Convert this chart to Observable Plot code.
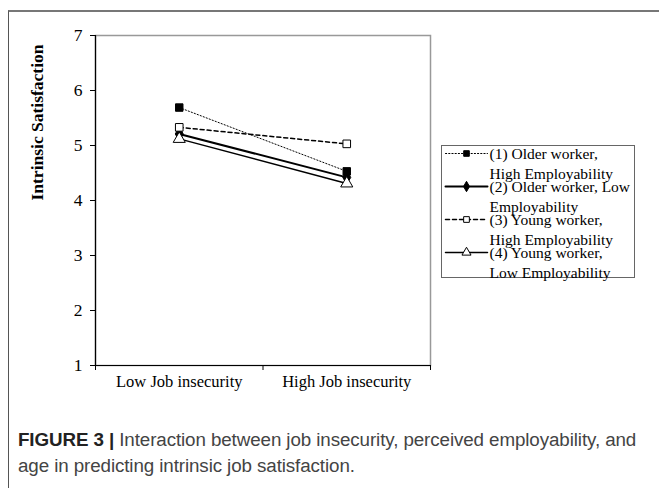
<!DOCTYPE html>
<html>
<head>
<meta charset="utf-8">
<script src="https://cdn.jsdelivr.net/npm/d3@7"></script>
<script src="https://cdn.jsdelivr.net/npm/@observablehq/plot@0.6"></script>
<style>
  html, body { margin: 0; padding: 0; background: #fff; }
  #page { position: relative; width: 659px; height: 488px; overflow: hidden; background: #fff; }
  #border { position: absolute; left: 8px; top: 10px; width: 700px; height: 600px;
            border-left: 1.5px solid #555; border-top: 2px solid #777; }
  #chart { position: absolute; left: 0; top: 0; }
  #legend { position: absolute; left: 441px; top: 145px; width: 192px; height: 131px;
            border: 1px solid #666; background: #fff; }
  #caption { position: absolute; left: 18px; top: 427px; width: 630px;
             font-family: "Liberation Sans", Arial, sans-serif; font-size: 18.8px; line-height: 26px;
             color: #444; letter-spacing: -0.1px; }
  #caption b { color: #222; }
</style>
</head>
<body>
<div id="page">
  <div id="border"></div>
  <div id="chart"></div>
  <div id="legend"></div>
  <div id="caption"><b>FIGURE 3 |</b> Interaction between job insecurity, perceived employability, and age in predicting intrinsic job satisfaction.</div>
</div>
<script>
// ---- data ----
const categories = ["Low Job insecurity", "High Job insecurity"];
const seriesNames = [
  "(1) Older worker, High Employability",
  "(2) Older worker, Low Employability",
  "(3) Young worker, High Employability",
  "(4) Young worker, Low Employability"
];
const legendLabels = [
  "(1) Older worker,\nHigh Employability",
  "(2) Older worker, Low\nEmployability",
  "(3) Young worker,\nHigh Employability",
  "(4) Young worker,\nLow Employability"
];
const olderHigh = [5.69, 4.53];
const olderLow  = [5.21, 4.42];
const youngHigh = [5.33, 5.03];
const youngLow  = [5.12, 4.31];
const yTicks = [1, 2, 3, 4, 5, 6, 7];
const yLabel = "Intrinsic Satisfaction";

const seriesValues = [olderHigh, olderLow, youngHigh, youngLow];
const data = seriesNames.flatMap((s, i) =>
  categories.map((c, j) => ({series: s, cat: c, xi: j + 0.5, value: seriesValues[i][j]})));

// styles per series
const styles = [
  {dash: "1.2,2", width: 1, symbol: "square", fill: "black", r: 4.2},
  {dash: null, width: 2, symbol: "diamond", fill: "black", r: 4.2},
  {dash: "4,3", width: 1.5, symbol: "square", fill: "white", r: 4.3},
  {dash: null, width: 1.5, symbol: "triangle", fill: "white", r: 4.5}
];

const serif = "'Liberation Serif', 'Times New Roman', serif";

const marks = [
  Plot.frame({stroke: "#999", strokeWidth: 1.5}),
  Plot.axisY({ticks: yTicks, tickSize: 5, tickPadding: 8, label: null, tickFormat: d3.format("d"), fontSize: 17.5}),
  Plot.axisX({ticks: [0, 1, 2], tickSize: 5, tickFormat: () => "", label: null}),
  Plot.ruleX([0], {stroke: "black", strokeWidth: 1.2}),
  Plot.ruleY([1], {stroke: "black", strokeWidth: 1.2}),
  Plot.text(categories, {x: (d, i) => i + 0.5, frameAnchor: "bottom", dy: 21, text: d => d, fontSize: 16.5}),
  Plot.text([yLabel], {frameAnchor: "left", dx: -58, rotate: -90, text: d => d, fontSize: 17.5, fontWeight: "bold"})
];
seriesNames.forEach((s, i) => {
  const st = styles[i];
  const sd = data.filter(d => d.series === s);
  marks.push(Plot.line(sd, {x: "xi", y: "value", stroke: "black", strokeWidth: st.width, strokeDasharray: st.dash}));
});
seriesNames.forEach((s, i) => {
  const st = styles[i];
  const sd = data.filter(d => d.series === s);
  marks.push(Plot.dot(sd, {x: "xi", y: "value", symbol: () => st.symbol, fill: st.fill, stroke: "black", strokeWidth: 1, r: st.r}));
});

const chart = Plot.plot({
  width: 659, height: 400,
  marginLeft: 95, marginTop: 35, marginRight: 229, marginBottom: 35,
  style: {fontFamily: serif, fontSize: "16px", color: "black", background: "transparent"},
  x: {type: "linear", domain: [0, 2], axis: null},
  y: {domain: [1, 7], axis: null},
  symbol: {type: "identity"},
  marks
});
document.getElementById("chart").appendChild(chart);

// ---- legend ----
const legendData = seriesNames.flatMap((s, i) => [0, 1].map(x => ({series: s, x})));
const legendMarks = [];
seriesNames.forEach((s, i) => {
  const st = styles[i];
  legendMarks.push(Plot.line(legendData.filter(d => d.series === s), {x: "x", y: "series", stroke: "black", strokeWidth: st.width, strokeDasharray: st.dash}));
});
seriesNames.forEach((s, i) => {
  const st = styles[i];
  legendMarks.push(Plot.dot([s], {x: () => 0.5, y: d => d, symbol: () => st.symbol, fill: st.fill, stroke: "black", strokeWidth: 1, r: st.r * 0.75}));
});
legendMarks.push(Plot.text(seriesNames, {x: () => 1, y: d => d, text: (d, i) => legendLabels[i], textAnchor: "start", lineAnchor: "top", dx: 2, dy: -8, lineHeight: 1.25, fontSize: 15.5}));

const legend = Plot.plot({
  width: 192, height: 131,
  marginLeft: 3, marginRight: 147, marginTop: 7, marginBottom: 25,
  style: {fontFamily: serif, fontSize: "15px", color: "black", background: "transparent", overflow: "visible"},
  x: {domain: [0, 1], axis: null},
  y: {type: "point", domain: seriesNames, padding: 0, axis: null},
  symbol: {type: "identity"},
  marks: legendMarks
});
document.getElementById("legend").appendChild(legend);
</script>
</body>
</html>
